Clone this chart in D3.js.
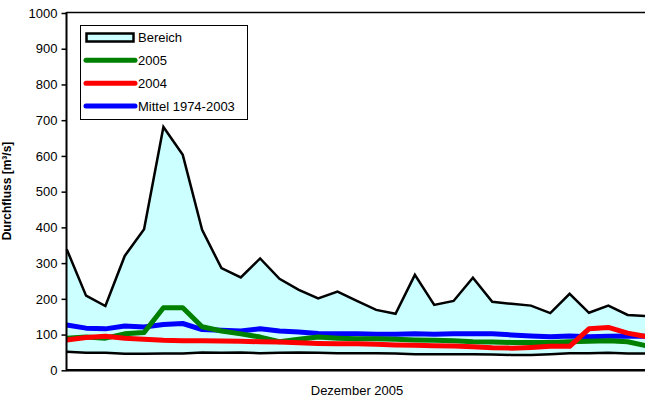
<!DOCTYPE html>
<html><head><meta charset="utf-8">
<script src="https://cdn.jsdelivr.net/npm/d3@7"></script>
<style>body{margin:0;background:#fff}svg{display:block;font-family:Arial,"Liberation Sans",sans-serif}</style>
</head><body><svg id="c" width="645" height="406"></svg>
<script>
const days = d3.range(1, 32);
const bereichMax = [339,209,180,320,395,681,603,393,286,260,313,256,225,201,220,194,169,158,267,183,194,259,192,186,181,160,214,161,181,155,152];
const bereichMin = [52,49,49,46,46,47,47,50,49,50,48,49,50,49,48,48,48,47,45,45,45,45,44,43,43,45,48,48,49,47,47];
const series2005 = [90,93,90,102,106,175,175,122,110,102,93,80,87,93,90,88,88,87,85,84,83,80,79,78,78,78,80,81,83,80,68];
const series2004 = [85,92,95,90,87,84,83,83,82,81,80,79,77,75,74,74,73,71,70,69,68,66,63,62,64,67,67,116,120,104,94];
const mittel = [127,118,116,124,121,128,131,114,112,110,116,110,107,103,102,102,101,101,102,101,102,102,102,99,96,94,96,94,95,96,95];
const yTicks = d3.range(0, 1001, 100);
const legendLabels = ["Bereich", "2005", "2004", "Mittel 1974-2003"];

const svg = d3.select("#c");
const x = d3.scaleLinear().domain([1, 31]).range([66.7, 647]);
const y = d3.scaleLinear().domain([0, 1000]).range([370.3, 13]);

// area
const area = d3.area().x((d,i)=>x(days[i])).y0((d,i)=>y(bereichMin[i])).y1(d=>y(d));
svg.append("path").datum(bereichMax).attr("d", area).attr("fill", "#ccffff");
const line = d3.line().x((d,i)=>x(days[i])).y(d=>y(d));
svg.append("path").datum(bereichMax).attr("d", line).attr("fill","none").attr("stroke","#000").attr("stroke-width",2.5).attr("stroke-linejoin","miter");
svg.append("path").datum(bereichMin).attr("d", line).attr("fill","none").attr("stroke","#000").attr("stroke-width",2.5);

const series = [[mittel,"#0000ff"],[series2005,"#008000"],[series2004,"#ff0000"]];
series.forEach(([data,col])=>{
  svg.append("path").datum(data).attr("d", line).attr("fill","none").attr("stroke",col).attr("stroke-width",5).attr("stroke-linejoin","round");
});

// frame
svg.append("line").attr("x1",66.5).attr("x2",645).attr("y1",12.5).attr("y2",12.5).attr("stroke","#000").attr("stroke-width",1.5);
svg.append("line").attr("x1",66).attr("x2",645).attr("y1",y(0)).attr("y2",y(0)).attr("stroke","#000").attr("stroke-width",2.5);

// y axis
const yAxis = d3.axisLeft(y).tickValues(yTicks).tickSize(5).tickPadding(4).tickFormat(d3.format("d"));
const ga = svg.append("g").attr("transform","translate(66.5,0)").call(yAxis);
ga.select(".domain").attr("stroke","#000").attr("stroke-width",2).attr("d","M0,12V370.3");
ga.selectAll(".tick line").attr("stroke","#000").attr("stroke-width",1.5);
ga.selectAll(".tick text").attr("font-size",13).attr("fill","#000").attr("font-family","Arial, 'Liberation Sans', sans-serif");

svg.append("text").attr("transform","translate(11,191) rotate(-90)").attr("text-anchor","middle")
  .attr("font-size",12).attr("font-weight","bold").text("Durchfluss [m³/s]");
svg.append("text").attr("x",357).attr("y",395).attr("text-anchor","middle").attr("font-size",13).text("Dezember 2005");

// legend
const lg = svg.append("g");
lg.append("rect").attr("x",80.5).attr("y",25.5).attr("width",167).attr("height",94).attr("fill","#fff").attr("stroke","#000").attr("stroke-width",1);
const ly = d3.scalePoint().domain(legendLabels).range([37.5,106]);
lg.append("rect").attr("x",86.5).attr("y",ly("Bereich")-4).attr("width",47).attr("height",8).attr("fill","#ccffff").attr("stroke","#000").attr("stroke-width",2.5);
[["2005","#008000"],["2004","#ff0000"],["Mittel 1974-2003","#0000ff"]].forEach(([k,c])=>{
  lg.append("line").attr("x1",86).attr("x2",135).attr("y1",ly(k)).attr("y2",ly(k)).attr("stroke",c).attr("stroke-width",5).attr("stroke-linecap","round");
});
legendLabels.forEach(k=>{
  lg.append("text").attr("x",138).attr("y",ly(k)+4.5).attr("font-size",13).text(k);
});
</script></body></html>
